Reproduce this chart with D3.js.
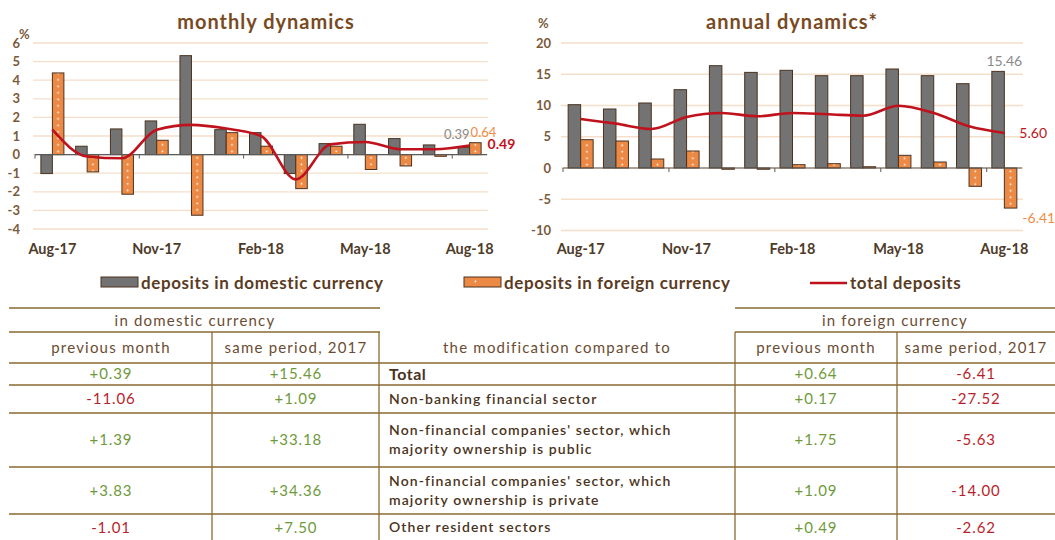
<!DOCTYPE html>
<html>
<head>
<meta charset="utf-8">
<script src="https://cdn.jsdelivr.net/npm/d3@7"></script>
<style>
  body { margin: 0; background: #fff; }
  svg { display: block; font-family: Lato, "Open Sans", sans-serif; }
</style>
</head>
<body>
<div id="chart"></div>
<script>
// categories
const months = ["Aug-17","Sep-17","Oct-17","Nov-17","Dec-17","Jan-18","Feb-18","Mar-18","Apr-18","May-18","Jun-18","Jul-18","Aug-18"]

// monthly dynamics, %
const monthlyDomestic = [-1.02, 0.45, 1.38, 1.81, 5.32, 1.34, 1.18, -1.02, 0.59, 1.63, 0.86, 0.52, 0.39]
const monthlyForeign = [4.39, -0.93, -2.13, 0.77, -3.26, 1.18, 0.45, -1.83, 0.45, -0.80, -0.61, -0.09, 0.64]
const monthlyTotal = [1.34, -0.10, -0.20, 1.34, 1.60, 1.40, 1.00, -1.33, 0.55, 0.68, 0.29, 0.29, 0.49]

// annual dynamics, %
const annualDomestic = [10.13, 9.44, 10.40, 12.53, 16.37, 15.30, 15.63, 14.77, 14.77, 15.84, 14.77, 13.49, 15.46]
const annualForeign = [4.53, 4.32, 1.44, 2.72, -0.20, -0.20, 0.53, 0.69, 0.20, 2.03, 0.96, -2.93, -6.41]
const annualTotal = [7.84, 7.10, 6.24, 8.16, 8.80, 8.27, 8.80, 8.60, 8.37, 9.97, 8.80, 6.67, 5.60]

// table
const rowLabels = [
  ["Total"],
  ["Non-banking financial sector"],
  ["Non-financial companies' sector, which", "majority ownership is public"],
  ["Non-financial companies' sector, which", "majority ownership is private"],
  ["Other resident sectors"]
]
const domPrevMonth = ["+0.39", "-11.06", "+1.39", "+3.83", "-1.01"]
const domSamePeriod = ["+15.46", "+1.09", "+33.18", "+34.36", "+7.50"]
const forPrevMonth = ["+0.64", "+0.17", "+1.75", "+1.09", "+0.49"]
const forSamePeriod = ["-6.41", "-27.52", "-5.63", "-14.00", "-2.62"]

const width = 1055
const height = 540

const gray = "#737373"
const orange = "#ec8a45"
const red = "#c0121c"
const barStroke = "#4a3320"
const gridColor = "#f6dfca"
const brown = "#7a4a1f"
const tickColor = "#7b5a3c"
const green = "#6f9a3c"
const tRed = "#b81f2c"
const border = "#8a6a32"

const svg = d3.select("#chart")
  .append("svg")
    .attr("width", width)
    .attr("height", height)

const defs = svg.append("defs")

function drawChart(opt) {
  const g = svg.append("g")

  const x = d3.scaleBand()
    .domain(months)
    .range([opt.x0, opt.x1])
    .paddingInner(0)
  const step = x.step()

  const y = d3.scaleLinear()
    .domain(opt.domain)
    .range([opt.yBottom, opt.yTop])

  // grid
  g.selectAll(".grid")
    .data(opt.ticks)
    .join("line")
      .attr("x1", opt.x0 - 2)
      .attr("x2", opt.x1 + 1)
      .attr("y1", d => y(d))
      .attr("y2", d => y(d))
      .attr("stroke", gridColor)
      .attr("stroke-width", 1.3)

  // y labels
  g.selectAll(".ylab")
    .data(opt.ticks)
    .join("text")
      .attr("x", opt.labelX)
      .attr("y", d => y(d))
      .attr("dy", "0.35em")
      .attr("text-anchor", "end")
      .attr("font-size", 13)
      .attr("font-weight", 700)
      .attr("fill", tickColor)
      .text(d => d)

  g.append("text")
    .attr("x", opt.pctX)
    .attr("y", opt.pctY)
    .attr("font-size", 13)
    .attr("font-weight", 700)
    .attr("fill", tickColor)
    .text("%")

  // dotted pattern for foreign bars
  const pid = opt.id + "-dots"
  const pat = defs.append("pattern")
    .attr("id", pid)
    .attr("patternUnits", "userSpaceOnUse")
    .attr("width", step)
    .attr("height", 6.5)
    .attr("x", 0)
    .attr("y", y(0))
  pat.append("rect")
    .attr("width", step).attr("height", 6.5).attr("fill", orange)
  const dotX = ((opt.x0 + step / 2 + opt.barW / 2) % step + step) % step
  pat.append("circle")
    .attr("cx", dotX).attr("cy", 3.2).attr("r", 0.9).attr("fill", "#fff")

  const gx = d => x(d) + step / 2 - opt.barW

  // domestic bars
  g.selectAll(".dom")
    .data(opt.dom)
    .join("rect")
      .attr("x", (d, i) => gx(months[i]))
      .attr("y", d => y(Math.max(0, d)))
      .attr("width", opt.barW)
      .attr("height", d => Math.abs(y(d) - y(0)))
      .attr("fill", gray)
      .attr("stroke", barStroke)
      .attr("stroke-width", 1)

  // foreign bars
  g.selectAll(".for")
    .data(opt.for)
    .join("rect")
      .attr("x", (d, i) => gx(months[i]) + opt.barW)
      .attr("y", d => y(Math.max(0, d)))
      .attr("width", opt.barW)
      .attr("height", d => Math.abs(y(d) - y(0)))
      .attr("fill", `url(#${pid})`)
      .attr("stroke", barStroke)
      .attr("stroke-width", 1)

  // zero axis
  g.append("line")
    .attr("x1", opt.x0).attr("x2", opt.x1)
    .attr("y1", y(0)).attr("y2", y(0))
    .attr("stroke", "#5a5a5a").attr("stroke-width", 1.2)

  g.selectAll(".tick")
    .data([0, 3, 6, 9, 12])
    .join("line")
      .attr("x1", d => opt.x0 + d * step)
      .attr("x2", d => opt.x0 + d * step)
      .attr("y1", y(0))
      .attr("y2", y(0) + 4)
      .attr("stroke", "#5a5a5a")

  // x labels
  g.selectAll(".xlab")
    .data(months.filter((d, i) => i % 3 === 0))
    .join("text")
      .attr("x", d => x(d) + step / 2)
      .attr("y", 254)
      .attr("text-anchor", "middle")
      .attr("font-size", 14.5)
      .attr("font-weight", 700)
      .attr("fill", "#4e3b2a")
      .text(d => d)

  // total line
  const line = d3.line()
    .x((d, i) => x(months[i]) + step / 2)
    .y(d => y(d))
    .curve(d3.curveMonotoneX)
  g.append("path")
    .datum(opt.total)
    .attr("d", line)
    .attr("fill", "none")
    .attr("stroke", red)
    .attr("stroke-width", 2.6)

  // title
  g.append("text")
    .attr("x", opt.titleX)
    .attr("y", 29)
    .attr("text-anchor", "middle")
    .attr("font-size", 20)
    .attr("font-weight", 700)
    .attr("letter-spacing", 1)
    .attr("fill", brown)
    .text(opt.title)

  // end labels
  const last = months.length - 1
  const cx = x(months[last]) + step / 2
  opt.endLabels.forEach(l => {
    g.append("text")
      .attr("x", cx + l.dx)
      .attr("y", y(l.v) + l.dy)
      .attr("text-anchor", l.anchor)
      .attr("font-size", l.size || 14)
      .attr("font-weight", l.bold ? 700 : 400)
      .attr("fill", l.color)
      .text(l.text)
  })
}

drawChart({
  id: "monthly",
  x0: 35, x1: 487,
  yTop: 43, yBottom: 229,
  domain: [-4, 6],
  ticks: [-4, -3, -2, -1, 0, 1, 2, 3, 4, 5, 6],
  labelX: 20,
  pctX: 19, pctY: 39,
  barW: 11.5,
  dom: monthlyDomestic, for: monthlyForeign, total: monthlyTotal,
  title: "monthly dynamics", titleX: 266,
  endLabels: [
    {v: monthlyDomestic[12], text: "0.39", color: "#8a8a8a", dx: 0, dy: -8, anchor: "end", bold: false, size: 13},
    {v: monthlyForeign[12], text: "0.64", color: "#ef8c48", dx: 1, dy: -6, anchor: "start", bold: false, size: 13},
    {v: monthlyTotal[12], text: "0.49", color: red, dx: 18, dy: 4, anchor: "start", bold: true}
  ]
})

drawChart({
  id: "annual",
  x0: 563, x1: 1022,
  yTop: 43, yBottom: 230.5,
  domain: [-10, 20],
  ticks: [-10, -5, 0, 5, 10, 15, 20],
  labelX: 551,
  pctX: 538, pctY: 28,
  barW: 12.5,
  dom: annualDomestic, for: annualForeign, total: annualTotal,
  title: "annual dynamics*", titleX: 792,
  endLabels: [
    {v: annualDomestic[12], text: "15.46", color: "#8a8a8a", dx: 0, dy: -5, anchor: "middle", bold: false},
    {v: annualTotal[12], text: "5.60", color: red, dx: 15, dy: 5, anchor: "start", bold: false},
    {v: annualForeign[12], text: "-6.41", color: "#ef8c48", dx: 18, dy: 15, anchor: "start", bold: false}
  ]
})

// legend
const legend = svg.append("g").attr("font-size", 17).attr("font-weight", 700)
  .attr("letter-spacing", 0.6).attr("fill", "#5a3b1f")
legend.append("rect").attr("x", 101).attr("y", 277).attr("width", 37).attr("height", 10)
  .attr("fill", gray).attr("stroke", barStroke)
legend.append("text").attr("x", 141).attr("y", 289).text("deposits in domestic currency")
legend.append("rect").attr("x", 464).attr("y", 277).attr("width", 37).attr("height", 10)
  .attr("fill", "url(#monthly-dots)").attr("stroke", barStroke)
legend.append("text").attr("x", 504).attr("y", 289).text("deposits in foreign currency")
legend.append("line").attr("x1", 810).attr("x2", 847).attr("y1", 283).attr("y2", 283)
  .attr("stroke", red).attr("stroke-width", 2.6)
legend.append("text").attr("x", 850).attr("y", 289).text("total deposits")

// table
const tbl = svg.append("g")
const rowEdges = [363, 385, 413, 467, 514, 541]

const hline = (x1, x2, yy) => tbl.append("line")
  .attr("x1", x1).attr("x2", x2).attr("y1", yy).attr("y2", yy)
  .attr("stroke", border).attr("stroke-width", 1.3)
const vline = (xx, y1, y2) => tbl.append("line")
  .attr("x1", xx).attr("x2", xx).attr("y1", y1).attr("y2", y2)
  .attr("stroke", border).attr("stroke-width", 1.3)

hline(9, 380, 308)
hline(735, 1055, 308)
hline(9, 380, 332)
hline(735, 1055, 332)
rowEdges.slice(0, 5).forEach(yy => hline(9, 1055, yy))
vline(212, 332, 541)
vline(379, 332, 541)
vline(735, 332, 541)
vline(897, 332, 541)

const headColor = "#6b4c32"
const headText = (xx, yy, t, anchor) => tbl.append("text")
  .attr("x", xx).attr("y", yy).attr("text-anchor", anchor || "middle")
  .attr("font-size", 15).attr("fill", headColor).attr("letter-spacing", 1.2).text(t)

headText(195, 326, "in domestic currency")
headText(895, 326, "in foreign currency")
headText(111, 353, "previous month")
headText(296, 353, "same period, 2017")
headText(557, 353, "the modification compared to")
headText(816, 353, "previous month")
headText(976, 353, "same period, 2017")

const valCol = (xx, vals) => tbl.selectAll(null)
  .data(vals)
  .join("text")
    .attr("x", xx)
    .attr("y", (d, i) => (rowEdges[i] + rowEdges[i + 1]) / 2)
    .attr("dy", "0.35em")
    .attr("text-anchor", "middle")
    .attr("font-size", 15)
    .attr("letter-spacing", 0.9)
    .attr("fill", d => d[0] === "-" ? tRed : green)
    .text(d => d)

valCol(111, domPrevMonth)
valCol(296, domSamePeriod)
valCol(816, forPrevMonth)
valCol(976, forSamePeriod)

rowLabels.forEach((lines, i) => {
  const mid = (rowEdges[i] + rowEdges[i + 1]) / 2
  lines.forEach((t, j) => {
    tbl.append("text")
      .attr("x", 389)
      .attr("y", mid + (j - (lines.length - 1) / 2) * 19)
      .attr("dy", "0.35em")
      .attr("font-size", i === 0 ? 16 : 14)
      .attr("font-weight", i === 0 ? 700 : 600)
      .attr("letter-spacing", i === 0 ? 0.5 : 1.1)
      .attr("fill", "#4a3320")
      .text(t)
  })
})
</script>
</body>
</html>
